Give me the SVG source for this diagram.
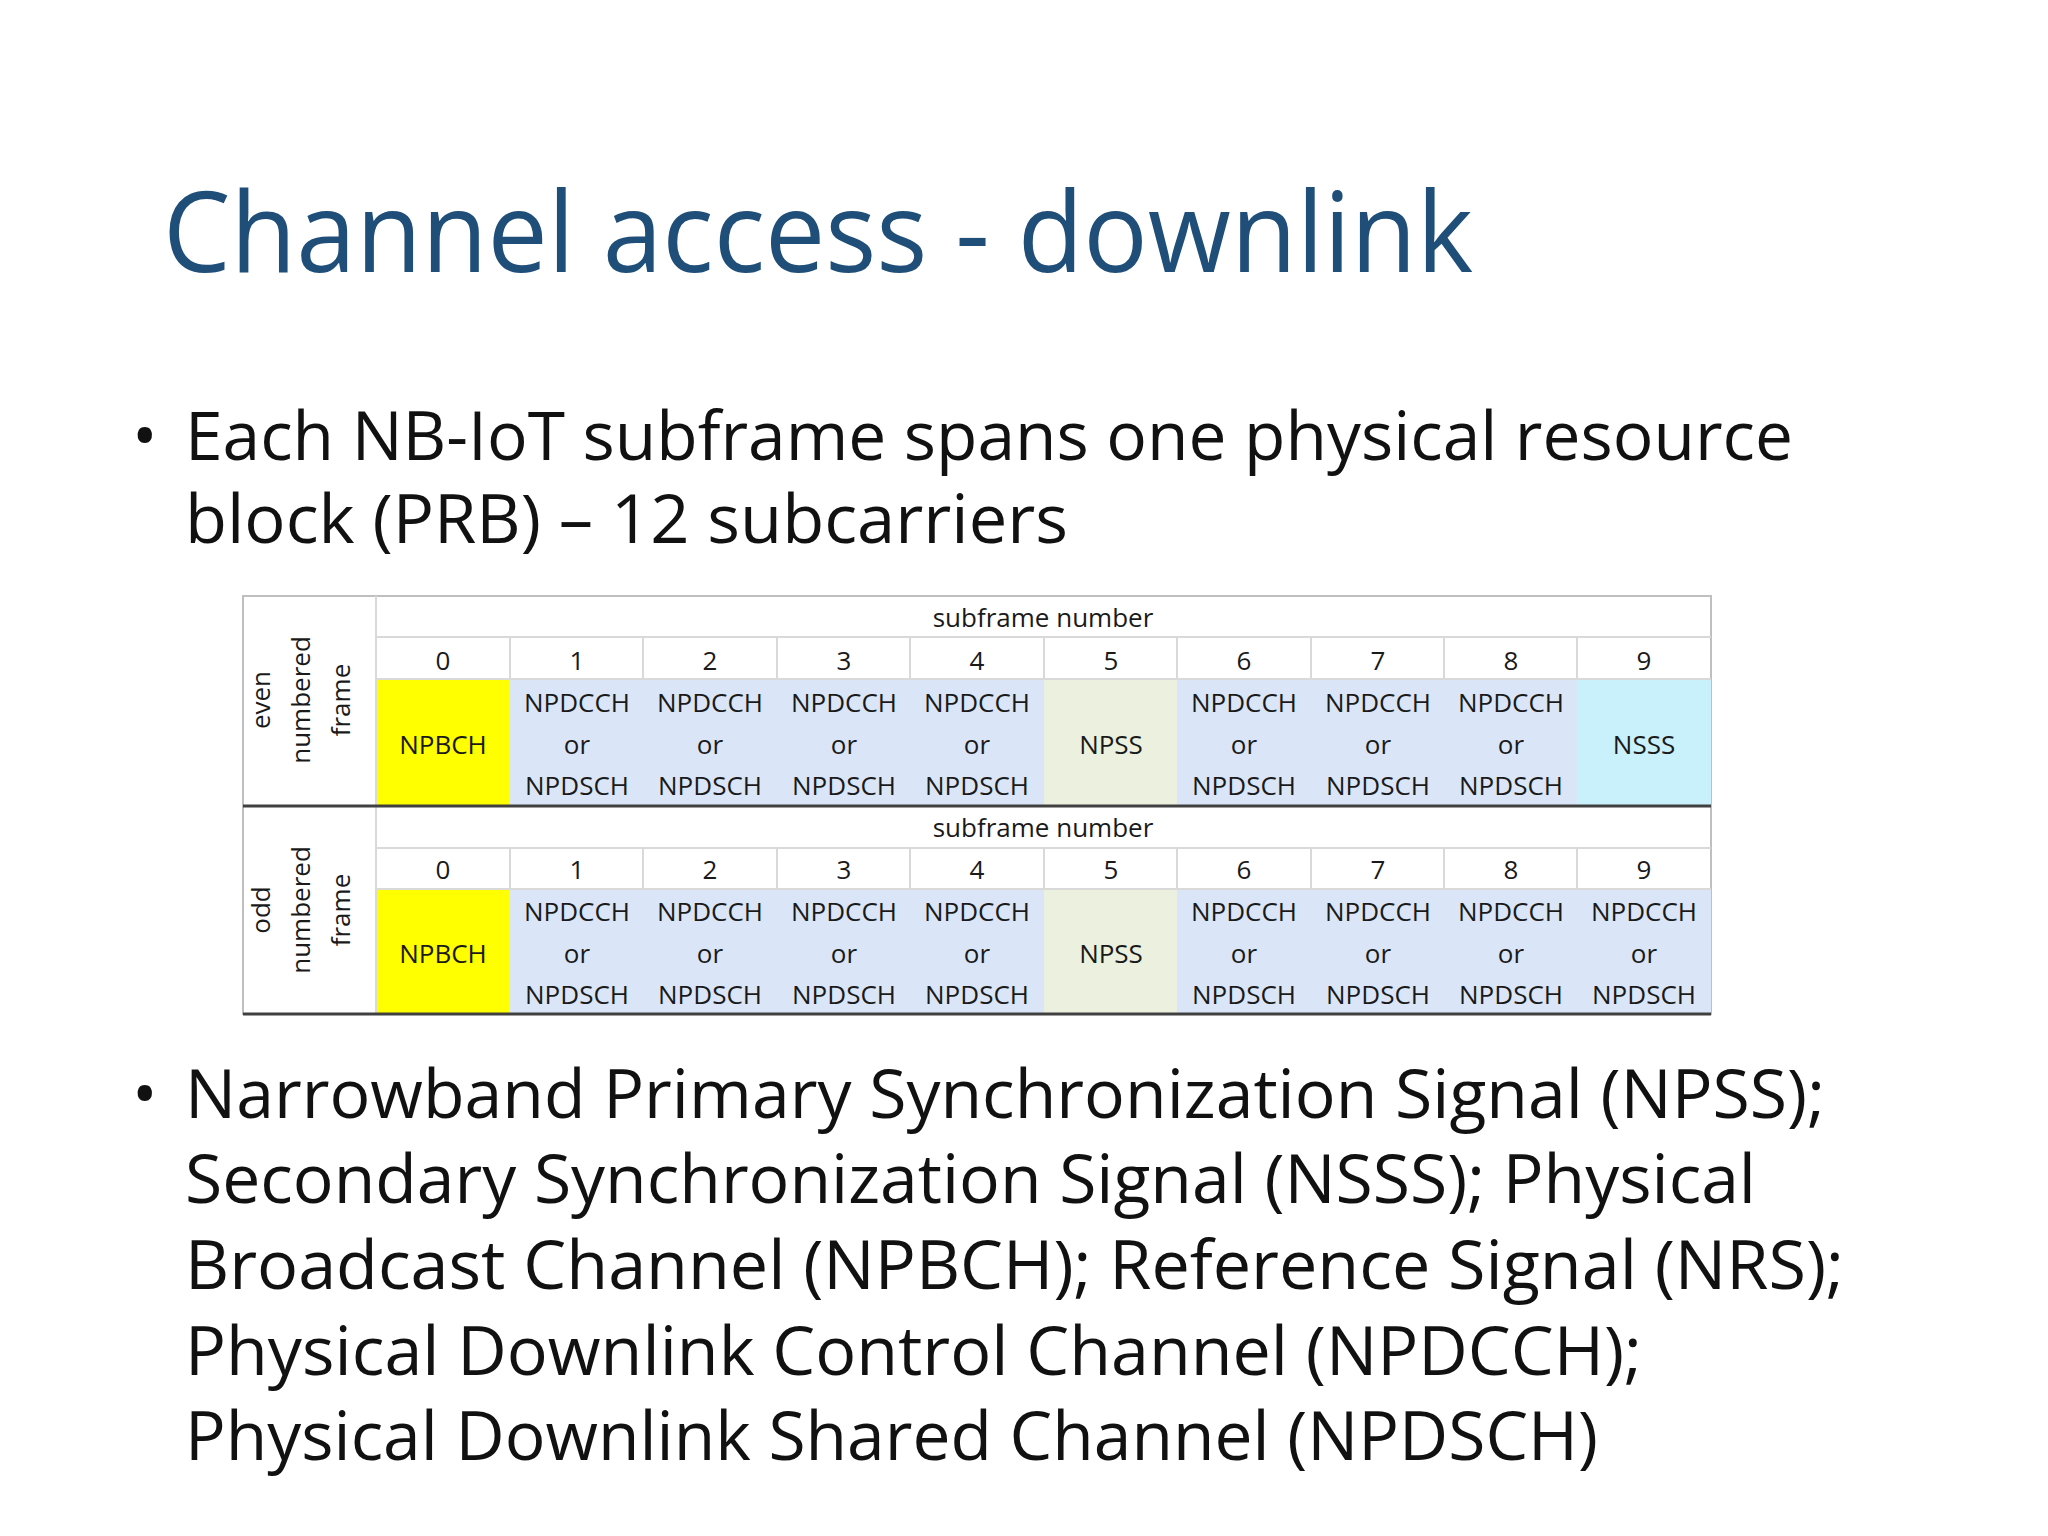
<svg xmlns="http://www.w3.org/2000/svg" width="2048" height="1536" viewBox="0 0 2048 1536">
<style>
.t{font-family:"Open Sans","Liberation Sans",sans-serif;font-size:26px;fill:#1a1a1a;text-anchor:middle}
.b{font-family:"Open Sans","Liberation Sans",sans-serif;font-size:68px;fill:#111}
.g{stroke:#d9d9d9;stroke-width:2;fill:none}
.d{stroke:#404040;stroke-width:3}
</style>
<rect width="2048" height="1536" fill="#fff"/>
<text x="163" y="272" font-family="Open Sans, Liberation Sans, sans-serif" font-size="112" fill="#1f4e79" textLength="1310" lengthAdjust="spacingAndGlyphs">Channel access - downlink</text>
<g id="bullet1">
<text x="132" y="460" class="b">•</text>
<text x="185" y="460" class="b" textLength="1608" lengthAdjust="spacingAndGlyphs">Each NB-IoT subframe spans one physical resource</text>
<text x="185" y="543" class="b" textLength="883" lengthAdjust="spacingAndGlyphs">block (PRB) – 12 subcarriers</text>
</g>
<g id="table">
<rect x="243" y="596" width="1468" height="418" fill="#fff" stroke="#bfbfbf" stroke-width="2"/>
<g id="even">
<rect x="376" y="679" width="134" height="127" fill="#ffff00"/>
<rect x="510" y="679" width="534" height="127" fill="#dae6f8"/>
<rect x="1044" y="679" width="133" height="127" fill="#ebf1de"/>
<rect x="1177" y="679" width="400" height="127" fill="#dae6f8"/>
<rect x="1577" y="679" width="134" height="127" fill="#c9f1fb"/>
</g>
<g id="odd">
<rect x="376" y="889" width="134" height="125" fill="#ffff00"/>
<rect x="510" y="889" width="534" height="125" fill="#dae6f8"/>
<rect x="1044" y="889" width="133" height="125" fill="#ebf1de"/>
<rect x="1177" y="889" width="534" height="125" fill="#dae6f8"/>
</g>
<g id="grid" class="g">
<path d="M376 596V1014M376 637H1711M376 679H1711M376 848H1711M376 889H1711"/>
<path d="M510 637V679M643 637V679M777 637V679M910 637V679M1044 637V679M1177 637V679M1311 637V679M1444 637V679M1577 637V679"/>
<path d="M510 848V889M643 848V889M777 848V889M910 848V889M1044 848V889M1177 848V889M1311 848V889M1444 848V889M1577 848V889"/>
</g>
<line x1="243" y1="806" x2="1711" y2="806" class="d"/>
<line x1="243" y1="1014" x2="1711" y2="1014" class="d"/>
<g id="labels">
<g transform="translate(270,700) rotate(-90)"><text class="t">even</text></g>
<g transform="translate(310,700) rotate(-90)"><text class="t">numbered</text></g>
<g transform="translate(350,700) rotate(-90)"><text class="t">frame</text></g>
<g transform="translate(270,910) rotate(-90)"><text class="t">odd</text></g>
<g transform="translate(310,910) rotate(-90)"><text class="t">numbered</text></g>
<g transform="translate(350,910) rotate(-90)"><text class="t">frame</text></g>
<text x="1043" y="627" class="t">subframe number</text>
<text x="1043" y="837" class="t">subframe number</text>
<g id="nums">
<text x="443" y="670" class="t">0</text><text x="577" y="670" class="t">1</text><text x="710" y="670" class="t">2</text><text x="844" y="670" class="t">3</text><text x="977" y="670" class="t">4</text><text x="1111" y="670" class="t">5</text><text x="1244" y="670" class="t">6</text><text x="1378" y="670" class="t">7</text><text x="1511" y="670" class="t">8</text><text x="1644" y="670" class="t">9</text>
<text x="443" y="879" class="t">0</text><text x="577" y="879" class="t">1</text><text x="710" y="879" class="t">2</text><text x="844" y="879" class="t">3</text><text x="977" y="879" class="t">4</text><text x="1111" y="879" class="t">5</text><text x="1244" y="879" class="t">6</text><text x="1378" y="879" class="t">7</text><text x="1511" y="879" class="t">8</text><text x="1644" y="879" class="t">9</text>
</g>
<text x="443" y="754" class="t">NPBCH</text>
<text x="1111" y="754" class="t">NPSS</text>
<text x="1644" y="754" class="t">NSSS</text>
<text x="443" y="963" class="t">NPBCH</text>
<text x="1111" y="963" class="t">NPSS</text>
<g class="t">
<text x="577" y="712" class="t">NPDCCH</text><text x="577" y="754" class="t">or</text><text x="577" y="795" class="t">NPDSCH</text>
<text x="710" y="712" class="t">NPDCCH</text><text x="710" y="754" class="t">or</text><text x="710" y="795" class="t">NPDSCH</text>
<text x="844" y="712" class="t">NPDCCH</text><text x="844" y="754" class="t">or</text><text x="844" y="795" class="t">NPDSCH</text>
<text x="977" y="712" class="t">NPDCCH</text><text x="977" y="754" class="t">or</text><text x="977" y="795" class="t">NPDSCH</text>
<text x="1244" y="712" class="t">NPDCCH</text><text x="1244" y="754" class="t">or</text><text x="1244" y="795" class="t">NPDSCH</text>
<text x="1378" y="712" class="t">NPDCCH</text><text x="1378" y="754" class="t">or</text><text x="1378" y="795" class="t">NPDSCH</text>
<text x="1511" y="712" class="t">NPDCCH</text><text x="1511" y="754" class="t">or</text><text x="1511" y="795" class="t">NPDSCH</text>
<text x="577" y="921" class="t">NPDCCH</text><text x="577" y="963" class="t">or</text><text x="577" y="1004" class="t">NPDSCH</text>
<text x="710" y="921" class="t">NPDCCH</text><text x="710" y="963" class="t">or</text><text x="710" y="1004" class="t">NPDSCH</text>
<text x="844" y="921" class="t">NPDCCH</text><text x="844" y="963" class="t">or</text><text x="844" y="1004" class="t">NPDSCH</text>
<text x="977" y="921" class="t">NPDCCH</text><text x="977" y="963" class="t">or</text><text x="977" y="1004" class="t">NPDSCH</text>
<text x="1244" y="921" class="t">NPDCCH</text><text x="1244" y="963" class="t">or</text><text x="1244" y="1004" class="t">NPDSCH</text>
<text x="1378" y="921" class="t">NPDCCH</text><text x="1378" y="963" class="t">or</text><text x="1378" y="1004" class="t">NPDSCH</text>
<text x="1511" y="921" class="t">NPDCCH</text><text x="1511" y="963" class="t">or</text><text x="1511" y="1004" class="t">NPDSCH</text>
<text x="1644" y="921" class="t">NPDCCH</text><text x="1644" y="963" class="t">or</text><text x="1644" y="1004" class="t">NPDSCH</text>
</g>
</g>
</g>
<g id="bullet2">
<text x="132" y="1118" class="b">•</text>
<text x="185" y="1118" class="b" textLength="1640" lengthAdjust="spacingAndGlyphs">Narrowband Primary Synchronization Signal (NPSS);</text>
<text x="185" y="1203" class="b" textLength="1571" lengthAdjust="spacingAndGlyphs">Secondary Synchronization Signal (NSSS); Physical</text>
<text x="185" y="1289" class="b" textLength="1659" lengthAdjust="spacingAndGlyphs">Broadcast Channel (NPBCH); Reference Signal (NRS);</text>
<text x="185" y="1375" class="b" textLength="1457" lengthAdjust="spacingAndGlyphs">Physical Downlink Control Channel (NPDCCH);</text>
<text x="185" y="1460" class="b" textLength="1413" lengthAdjust="spacingAndGlyphs">Physical Downlink Shared Channel (NPDSCH)</text>
</g>
</svg>
